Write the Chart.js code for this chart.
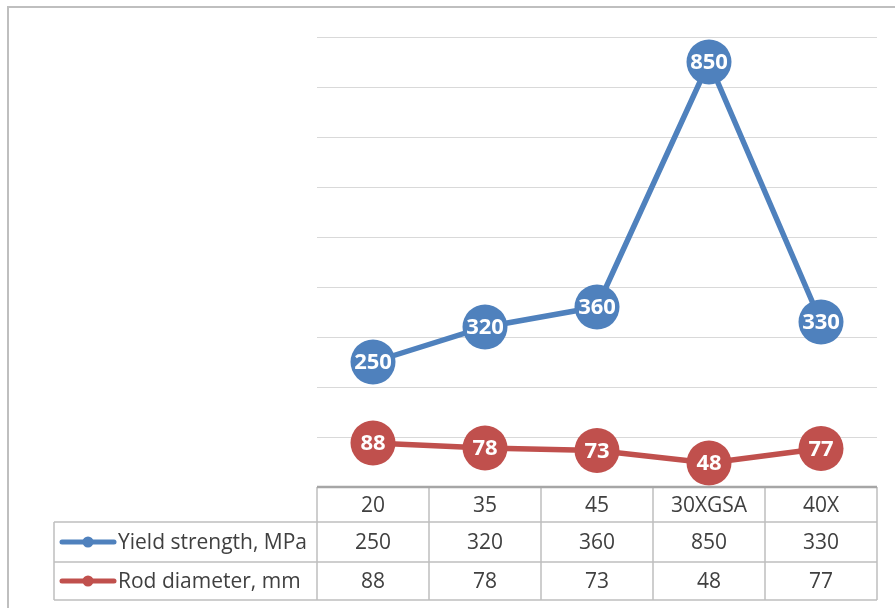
<!DOCTYPE html>
<html>
<head>
<meta charset="utf-8">
<script src="https://cdn.jsdelivr.net/npm/chart.js@4/dist/chart.umd.min.js"></script>
<style>
  html, body { margin: 0; padding: 0; background: #fff; }
  #chart { display: block; }
</style>
</head>
<body>
<canvas id="chart" width="895" height="608"></canvas>
<script>
const categories = ['20', '35', '45', '30XGSA', '40X'];
const yieldStrength = [250, 320, 360, 850, 330];
const rodDiameter = [88, 78, 73, 48, 77];
const seriesNames = ['Yield strength, MPa', 'Rod diameter, mm'];
const yMin = 0;
const yMax = 900;
const yStep = 100;

const BLUE = '#4f81bd';
const RED = '#c0504d';
const TEXT = '#404040';
const LINE = '#bfbfbf';
const FONT = '"Open Sans", "DejaVu Sans", sans-serif';

// data table below the plot, columns follow the x scale
const tablePlugin = {
  id: 'dataTable',
  beforeDraw(chart) {
    const ctx = chart.ctx;
    ctx.save();
    ctx.fillStyle = '#fff';
    ctx.fillRect(0, 0, chart.width, chart.height);
    // outer chart frame
    ctx.strokeStyle = LINE;
    ctx.lineWidth = 2;
    ctx.beginPath();
    ctx.moveTo(8, chart.height + 5);
    ctx.lineTo(8, 7);
    ctx.lineTo(chart.width + 5, 7);
    ctx.stroke();
    ctx.restore();
  },
  afterDatasetsDraw(chart) {
    const ctx = chart.ctx;
    ctx.save();
    ctx.fillStyle = '#fff';
    ctx.font = 'bold 22px ' + FONT;
    ctx.textAlign = 'center';
    ctx.textBaseline = 'middle';
    chart.data.datasets.forEach(function(ds, i) {
      chart.getDatasetMeta(i).data.forEach(function(pt, j) {
        ctx.fillText(String(ds.data[j]), pt.x, pt.y + 1);
      });
    });
    ctx.restore();
  },
  afterDraw(chart) {
    const ctx = chart.ctx;
    const area = chart.chartArea;
    const xs = chart.scales.x;
    const n = categories.length;
    const colW = (area.right - area.left) / n;
    const legendLeft = 54;
    const rows = [area.bottom, area.bottom + 35, area.bottom + 75, area.bottom + 113];

    ctx.save();
    ctx.strokeStyle = LINE;
    ctx.lineWidth = 1.5;
    ctx.beginPath();
    for (let r = 1; r < rows.length; r++) {
      ctx.moveTo(legendLeft, rows[r]);
      ctx.lineTo(area.right, rows[r]);
    }
    ctx.moveTo(legendLeft, rows[1]);
    ctx.lineTo(legendLeft, rows[3]);
    for (let k = 0; k <= n; k++) {
      const x = area.left + k * colW;
      ctx.moveTo(x, rows[0]);
      ctx.lineTo(x, rows[3]);
    }
    ctx.stroke();

    // axis line on top of table
    ctx.strokeStyle = '#a6a6a6';
    ctx.lineWidth = 2.5;
    ctx.beginPath();
    ctx.moveTo(area.left, rows[0]);
    ctx.lineTo(area.right, rows[0]);
    ctx.stroke();

    ctx.fillStyle = TEXT;
    ctx.font = '21px ' + FONT;
    ctx.textAlign = 'center';
    ctx.textBaseline = 'middle';
    categories.forEach(function(c, i) {
      const cx = xs.getPixelForValue(i);
      ctx.fillText(c, cx, (rows[0] + rows[1]) / 2 + 2);
      ctx.fillText(String(yieldStrength[i]), cx, (rows[1] + rows[2]) / 2 + 1);
      ctx.fillText(String(rodDiameter[i]), cx, (rows[2] + rows[3]) / 2 + 1);
    });

    // legend keys
    const keyColors = [BLUE, RED];
    seriesNames.forEach(function(name, i) {
      const cy = (rows[i + 1] + rows[i + 2]) / 2;
      ctx.strokeStyle = keyColors[i];
      ctx.lineWidth = 5;
      ctx.lineCap = 'round';
      ctx.beginPath();
      ctx.moveTo(62, cy);
      ctx.lineTo(114, cy);
      ctx.stroke();
      ctx.fillStyle = keyColors[i];
      ctx.beginPath();
      ctx.arc(88, cy, 5.5, 0, Math.PI * 2);
      ctx.fill();
      ctx.fillStyle = TEXT;
      ctx.textAlign = 'left';
      ctx.fillText(name, 118, cy + 1);
    });
    ctx.restore();
  }
};

new Chart(document.getElementById('chart'), {
  type: 'line',
  data: {
    labels: categories,
    datasets: [
      {
        label: seriesNames[0],
        data: yieldStrength,
        borderColor: BLUE,
        backgroundColor: BLUE,
        borderWidth: 5.5,
        pointRadius: 22.5,
        pointHoverRadius: 22.5,
        pointBorderWidth: 0,
        tension: 0,
        clip: false
      },
      {
        label: seriesNames[1],
        data: rodDiameter,
        borderColor: RED,
        backgroundColor: RED,
        borderWidth: 5.5,
        pointRadius: 22.5,
        pointHoverRadius: 22.5,
        pointBorderWidth: 0,
        tension: 0,
        clip: false
      }
    ]
  },
  options: {
    responsive: false,
    animation: false,
    layout: { autoPadding: false, padding: { left: 317, top: 37, right: 18, bottom: 121 } },
    plugins: { legend: { display: false }, tooltip: { enabled: false } },
    scales: {
      x: { display: false, offset: true },
      y: {
        min: yMin,
        max: yMax,
        ticks: { stepSize: yStep, display: false },
        grid: { color: '#d9d9d9', lineWidth: 1, drawTicks: false },
        border: { display: false }
      }
    }
  },
  plugins: [tablePlugin]
});
</script>
</body>
</html>
